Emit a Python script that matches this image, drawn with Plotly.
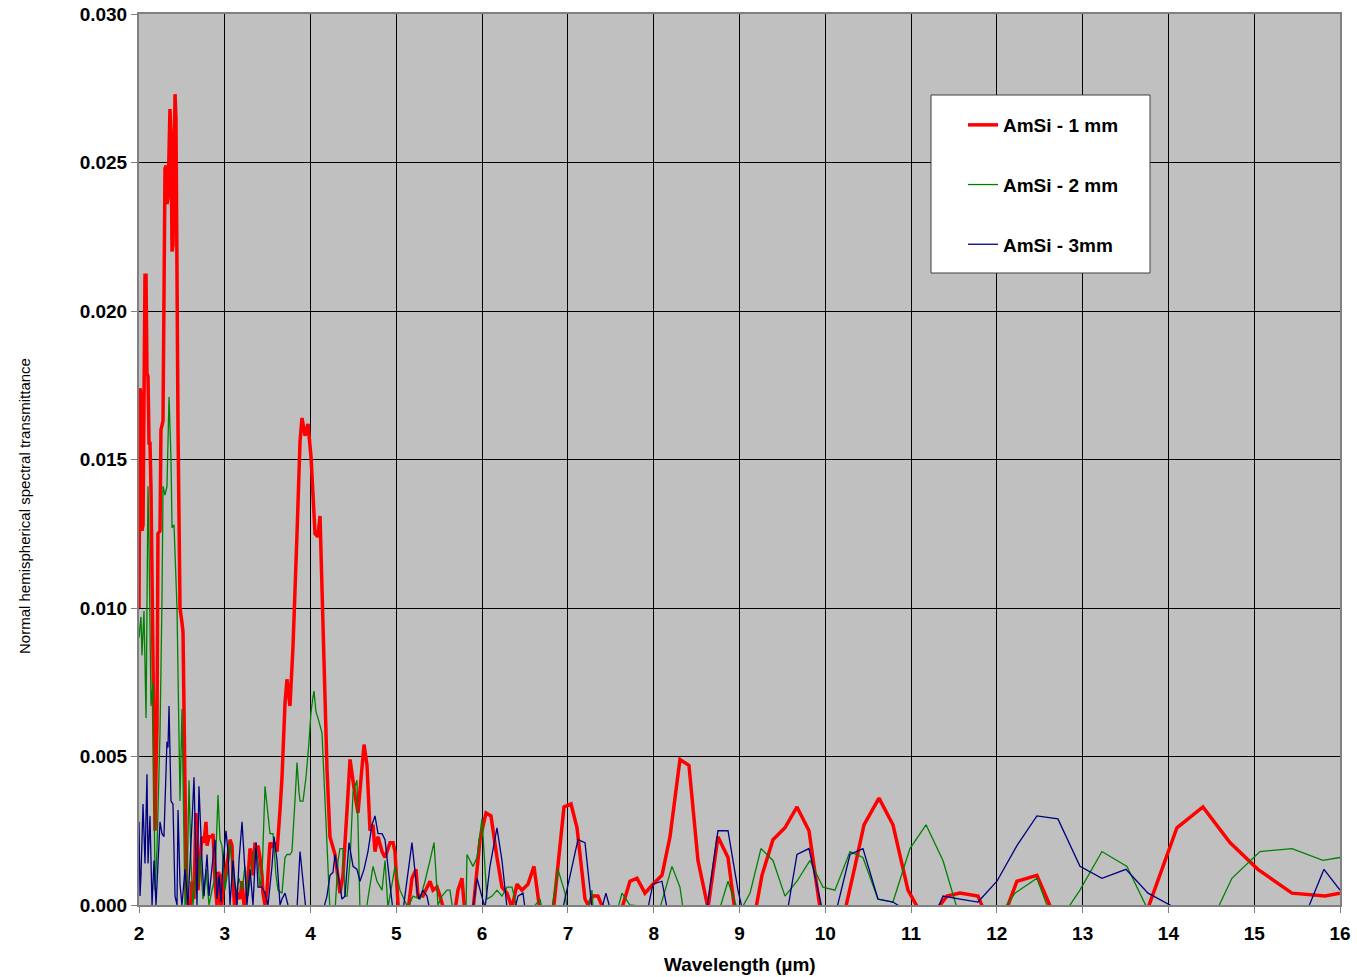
import plotly.graph_objects as go

# Wavelength (um) and normal hemispherical spectral transmittance for each sample thickness
wl_1mm = [2.000, 2.012, 2.023, 2.035, 2.047, 2.058, 2.070, 2.082, 2.093, 2.105, 2.117, 2.128, 2.140, 2.152,
          2.175, 2.187, 2.198, 2.210, 2.221, 2.245, 2.256, 2.280, 2.303, 2.315, 2.326, 2.338, 2.361, 2.373,
          2.385, 2.396, 2.420, 2.431, 2.455, 2.478, 2.501, 2.513, 2.536, 2.559, 2.571, 2.594, 2.618, 2.641,
          2.664, 2.688, 2.711, 2.734, 2.758, 2.781, 2.793, 2.816, 2.851, 2.863, 2.886, 2.909, 2.921, 2.944,
          2.956, 2.979, 3.014, 3.037, 3.061, 3.084, 3.096, 3.119, 3.142, 3.177, 3.201, 3.224, 3.259, 3.294,
          3.317, 3.329, 3.352, 3.364, 3.387, 3.410, 3.434, 3.445, 3.469, 3.492, 3.527, 3.550, 3.574, 3.609,
          3.644, 3.667, 3.702, 3.725, 3.760, 3.795, 3.842, 3.877, 3.900, 3.935, 3.970, 4.005, 4.052, 4.086,
          4.110, 4.145, 4.191, 4.226, 4.285, 4.343, 4.378, 4.425, 4.460, 4.518, 4.553, 4.623, 4.658, 4.693,
          4.728, 4.751, 4.786, 4.833, 4.868, 4.926, 4.961, 4.984, 5.030, 5.136, 5.182, 5.229, 5.252, 5.310,
          5.392, 5.427, 5.474, 5.509, 5.567, 5.683, 5.718, 5.765, 5.800, 5.893, 5.975, 6.045, 6.103, 6.173,
          6.231, 6.290, 6.348, 6.406, 6.464, 6.534, 6.604, 6.674, 6.826, 6.954, 7.036, 7.106, 7.199, 7.234,
          7.292, 7.350, 7.408, 7.630, 7.723, 7.805, 7.898, 7.991, 8.096, 8.190, 8.306, 8.411, 8.516, 8.633,
          8.749, 8.866, 8.947, 9.180, 9.262, 9.390, 9.530, 9.670, 9.810, 9.938, 10.229, 10.346, 10.451,
          10.626, 10.789, 10.964, 11.080, 11.313, 11.418, 11.570, 11.780, 11.838, 12.118, 12.234, 12.467,
          12.631, 13.762, 14.099, 14.402, 14.717, 15.043, 15.440, 15.825, 16.000]
tr_1mm = [0.0100, 0.0174, 0.0171, 0.0126, 0.0128, 0.0175, 0.0212, 0.0212, 0.0179, 0.0178, 0.0155, 0.0156,
          0.0140, 0.0110, 0.0040, 0.0025, 0.0045, 0.0060, 0.0125, 0.0126, 0.0160, 0.0163, 0.0248, 0.0249,
          0.0236, 0.0238, 0.0268, 0.0260, 0.0220, 0.0222, 0.0273, 0.0265, 0.0160, 0.0100, 0.0095, 0.0092,
          0.0040, 0.0002, 0.0000, -0.0003, 0.0008, 0.0002, 0.0031, 0.0005, 0.0015, 0.0023, 0.0021, 0.0028,
          0.0020, 0.0023, 0.0023, 0.0024, 0.0008, 0.0000, 0.0011, 0.0010, -0.0003, 0.0005, 0.0012, 0.0016,
          0.0022, 0.0020, 0.0008, -0.0003, 0.0004, 0.0002, 0.0008, 0.0000, 0.0004, 0.0019, 0.0017, 0.0010,
          0.0021, 0.0018, 0.0020, 0.0016, 0.0010, 0.0004, 0.0000, 0.0005, 0.0021, 0.0020, 0.0021, 0.0018,
          0.0032, 0.0043, 0.0068, 0.0076, 0.0067, 0.0087, 0.0125, 0.0156, 0.0164, 0.0158, 0.0162, 0.0151,
          0.0125, 0.0124, 0.0131, 0.0092, 0.0046, 0.0023, 0.0017, 0.0004, 0.0010, 0.0032, 0.0049, 0.0037,
          0.0031, 0.0054, 0.0047, 0.0025, 0.0027, 0.0018, 0.0023, 0.0018, 0.0016, 0.0021, 0.0021, 0.0018,
          -0.0005, -0.0002, 0.0009, 0.0012, 0.0003, 0.0003, 0.0008, 0.0005, 0.0006, 0.0003, -0.0003, -0.0002,
          0.0005, 0.0009, -0.0003, -0.0002, 0.0022, 0.0031, 0.0030, 0.0016, 0.0006, 0.0004, -0.0001, 0.0007,
          0.0005, 0.0007, 0.0013, -0.0002, -0.0003, 0.0033, 0.0034, 0.0026, 0.0002, 0.0000, 0.0003, 0.0003,
          -0.0001, -0.0001, 0.0008, 0.0009, 0.0004, 0.0007, 0.0010, 0.0023, 0.0049, 0.0047, 0.0015, -0.0001,
          0.0023, 0.0016, -0.0002, -0.0003, 0.0010, 0.0022, 0.0026, 0.0033, 0.0025, -0.0001, -0.0002, 0.0013,
          0.0027, 0.0036, 0.0027, 0.0005, -0.0001, -0.0001, 0.0003, 0.0004, 0.0003, -0.0001, -0.0001, 0.0008,
          0.0010, -0.0001, -0.0001, 0.0026, 0.0033, 0.0021, 0.0012, 0.0004, 0.0003, 0.0004]

wl_2mm = [2.000, 2.023, 2.035, 2.058, 2.082, 2.105, 2.117, 2.140, 2.163, 2.175, 2.187, 2.210, 2.245, 2.268,
          2.280, 2.303, 2.326, 2.350, 2.373, 2.385, 2.408, 2.443, 2.478, 2.501, 2.513, 2.536, 2.559, 2.583,
          2.606, 2.629, 2.664, 2.688, 2.711, 2.746, 2.781, 2.816, 2.851, 2.886, 2.921, 2.944, 2.967, 3.002,
          3.037, 3.061, 3.096, 3.131, 3.166, 3.201, 3.236, 3.271, 3.294, 3.329, 3.364, 3.387, 3.410, 3.434,
          3.469, 3.504, 3.527, 3.562, 3.597, 3.620, 3.667, 3.702, 3.725, 3.760, 3.783, 3.818, 3.842, 3.865,
          3.877, 3.912, 3.947, 3.982, 4.005, 4.028, 4.040, 4.063, 4.086, 4.133, 4.168, 4.203, 4.226, 4.285,
          4.320, 4.343, 4.378, 4.401, 4.425, 4.460, 4.495, 4.541, 4.576, 4.646, 4.728, 4.774, 4.833, 4.868,
          4.902, 4.984, 5.042, 5.136, 5.194, 5.275, 5.334, 5.392, 5.439, 5.485, 5.532, 5.590, 5.625, 5.660,
          5.812, 5.823, 5.893, 5.940, 5.998, 6.056, 6.115, 6.173, 6.231, 6.290, 6.348, 6.406, 6.593, 6.674,
          6.697, 6.814, 6.884, 6.966, 6.989, 7.234, 7.280, 7.292, 7.583, 7.630, 7.723, 8.073, 8.213, 8.306,
          8.341, 8.772, 8.866, 8.971, 9.029, 9.123, 9.250, 9.390, 9.530, 9.670, 9.822, 9.973, 10.113,
          10.288, 10.439, 10.614, 10.789, 10.987, 11.174, 11.372, 11.535, 12.094, 12.211, 12.467, 12.596,
          12.829, 12.969, 13.225, 13.517, 13.750, 14.577, 14.740, 15.067, 15.440, 15.801, 16.000]
tr_2mm = [0.0090, 0.0097, 0.0084, 0.0099, 0.0063, 0.0141, 0.0120, 0.0067, 0.0075, 0.0028, 0.0005, 0.0019,
          0.0058, 0.0103, 0.0141, 0.0138, 0.0141, 0.0171, 0.0150, 0.0127, 0.0128, 0.0100, 0.0035, 0.0066,
          0.0040, 0.0000, 0.0003, 0.0042, 0.0015, 0.0000, 0.0010, 0.0006, 0.0017, 0.0002, 0.0012, 0.0000,
          0.0005, 0.0009, 0.0037, 0.0022, 0.0020, 0.0005, 0.0012, 0.0021, 0.0011, 0.0004, 0.0009, 0.0005,
          0.0013, 0.0003, 0.0008, 0.0017, 0.0019, 0.0015, 0.0006, 0.0010, 0.0040, 0.0029, 0.0024, 0.0024,
          0.0010, 0.0005, 0.0004, 0.0016, 0.0017, 0.0017, 0.0018, 0.0035, 0.0048, 0.0038, 0.0035, 0.0035,
          0.0043, 0.0055, 0.0065, 0.0070, 0.0072, 0.0065, 0.0063, 0.0058, 0.0035, 0.0010, -0.0002, -0.0002,
          0.0015, 0.0019, 0.0019, 0.0003, 0.0003, 0.0015, 0.0038, 0.0042, -0.0002, -0.0002, 0.0013, 0.0008,
          0.0005, 0.0015, -0.0001, 0.0013, 0.0005, -0.0001, 0.0003, 0.0002, 0.0008, 0.0015, 0.0021, 0.0000,
          0.0003, 0.0005, 0.0005, -0.0002, -0.0002, 0.0017, 0.0013, 0.0016, 0.0029, 0.0002, 0.0003, 0.0005,
          0.0003, 0.0006, 0.0006, -0.0001, -0.0001, 0.0002, -0.0001, -0.0001, 0.0012, 0.0004, -0.0001,
          -0.0001, 0.0005, -0.0001, -0.0001, 0.0004, 0.0000, -0.0001, 0.0013, 0.0006, -0.0001, -0.0001,
          0.0008, -0.0001, -0.0001, 0.0004, 0.0019, 0.0015, 0.0003, 0.0008, 0.0015, 0.0006, 0.0005, 0.0018,
          0.0016, 0.0002, 0.0001, 0.0019, 0.0027, 0.0015, -0.0001, -0.0001, 0.0004, 0.0009, -0.0001,
          -0.0001, 0.0005, 0.0018, 0.0013, -0.0001, -0.0001, 0.0009, 0.0018, 0.0019, 0.0015, 0.0016]

wl_3mm = [2.000, 2.012, 2.023, 2.047, 2.070, 2.093, 2.105, 2.128, 2.152, 2.175, 2.198, 2.221, 2.245, 2.268,
          2.291, 2.326, 2.338, 2.350, 2.373, 2.396, 2.420, 2.443, 2.455, 2.478, 2.501, 2.536, 2.571, 2.618,
          2.641, 2.676, 2.699, 2.734, 2.758, 2.793, 2.816, 2.863, 2.886, 2.909, 2.933, 2.956, 2.979, 3.014,
          3.037, 3.061, 3.096, 3.142, 3.166, 3.201, 3.224, 3.259, 3.294, 3.329, 3.364, 3.387, 3.434, 3.469,
          3.504, 3.550, 3.574, 3.609, 3.644, 3.667, 3.702, 3.737, 3.783, 3.842, 3.877, 3.912, 3.947, 4.145,
          4.191, 4.226, 4.261, 4.285, 4.320, 4.366, 4.401, 4.448, 4.495, 4.541, 4.576, 4.623, 4.669, 4.716,
          4.751, 4.786, 4.833, 4.868, 4.902, 4.961, 5.077, 5.124, 5.182, 5.240, 5.264, 5.310, 5.357, 5.392,
          5.893, 5.940, 6.033, 6.091, 6.173, 6.231, 6.290, 6.383, 6.418, 6.476, 6.499, 6.942, 7.117, 7.199,
          7.280, 7.397, 7.443, 7.490, 7.933, 7.991, 8.096, 8.155, 8.621, 8.749, 8.866, 8.982, 9.029, 9.565,
          9.670, 9.810, 9.961, 10.136, 10.288, 10.439, 10.614, 10.789, 10.952, 11.313, 11.372, 11.570,
          11.780, 12.001, 12.234, 12.467, 12.712, 12.969, 13.225, 13.505, 13.762, 14.018, 14.134, 15.615,
          15.813, 16.000]
tr_3mm = [0.0028, 0.0003, 0.0010, 0.0034, 0.0014, 0.0044, 0.0014, 0.0030, 0.0000, 0.0015, 0.0000, 0.0016,
          0.0028, 0.0024, 0.0023, 0.0055, 0.0053, 0.0067, 0.0035, 0.0034, 0.0003, 0.0000, 0.0032, 0.0007,
          0.0000, 0.0012, 0.0000, 0.0028, 0.0043, 0.0000, 0.0040, 0.0015, 0.0003, 0.0017, 0.0003, 0.0016,
          0.0022, 0.0002, 0.0010, 0.0001, 0.0014, 0.0025, 0.0018, 0.0000, 0.0015, 0.0000, 0.0015, 0.0028,
          0.0017, 0.0000, 0.0012, 0.0000, 0.0021, 0.0006, 0.0006, 0.0004, 0.0000, 0.0013, 0.0023, 0.0015,
          0.0000, 0.0002, 0.0004, 0.0000, -0.0002, -0.0001, 0.0018, 0.0008, -0.0002, -0.0002, 0.0003, 0.0010,
          0.0011, 0.0017, 0.0010, 0.0002, 0.0003, 0.0021, 0.0013, 0.0012, 0.0008, 0.0012, 0.0018, 0.0027,
          0.0030, 0.0024, 0.0024, 0.0022, 0.0013, -0.0002, -0.0002, 0.0008, 0.0021, 0.0005, 0.0002, 0.0005,
          0.0003, -0.0002, -0.0001, 0.0009, -0.0001, 0.0013, 0.0026, 0.0015, -0.0001, -0.0001, 0.0003,
          0.0004, -0.0001, -0.0001, 0.0022, 0.0021, -0.0001, -0.0001, 0.0004, -0.0001, -0.0001, 0.0007,
          0.0008, -0.0001, -0.0001, 0.0025, 0.0025, 0.0005, -0.0001, -0.0001, 0.0017, 0.0019, -0.0001,
          -0.0001, 0.0017, 0.0019, 0.0002, 0.0001, -0.0002, -0.0001, 0.0003, 0.0002, 0.0001, 0.0008, 0.0020,
          0.0030, 0.0029, 0.0013, 0.0009, 0.0012, 0.0004, 0.0000, -0.0002, -0.0002, 0.0012, 0.0005]

series_names = ["AmSi - 1 mm", "AmSi - 2 mm", "AmSi - 3mm"]
series_colors = ["#FF0000", "#008000", "#000080"]
series_widths = [3.5, 1.3, 1.3]

x_ticks = list(range(2, 17))
y_ticks = [0.000, 0.005, 0.010, 0.015, 0.020, 0.025, 0.030]

W, H = 1357, 977
L, R, T, B = 139, 17, 14, 72
plot_w = W - L - R
plot_h = H - T - B


def px_to_paper_x(px):
    return (px - L) / plot_w


def px_to_paper_y(py):
    return (H - B - py) / plot_h


FONT = "Liberation Sans, Arial, sans-serif"

fig = go.Figure()
for i, (xs, ys) in enumerate([(wl_1mm, tr_1mm), (wl_2mm, tr_2mm), (wl_3mm, tr_3mm)]):
    fig.add_trace(go.Scatter(
        x=xs, y=ys, mode="lines", name=series_names[i],
        legendgroup=f"g{i}",
        line=dict(color=series_colors[i], width=series_widths[i]),
    ))

tick_font = dict(family=FONT, size=19, color="black", weight="bold")

fig.update_layout(
    width=W, height=H,
    margin=dict(l=L, r=R, t=T, b=B, autoexpand=False),
    paper_bgcolor="white",
    plot_bgcolor="#C0C0C0",
    showlegend=True,
    legend=dict(
        x=px_to_paper_x(963), y=px_to_paper_y(106), xanchor="left", yanchor="top",
        bgcolor="rgba(0,0,0,0)", borderwidth=0,
        font=dict(family=FONT, size=19, color="black", weight="bold"),
        tracegroupgap=32,
    ),
    shapes=[dict(
        type="rect", xref="paper", yref="paper", layer="above",
        x0=px_to_paper_x(931), x1=px_to_paper_x(1150),
        y0=px_to_paper_y(273), y1=px_to_paper_y(95),
        fillcolor="white", line=dict(color="#404040", width=1),
    )],
    annotations=[
        dict(text="Normal hemispherical spectral transmittance", textangle=-90,
             xref="paper", yref="paper", x=px_to_paper_x(25), y=px_to_paper_y(506),
             xanchor="center", yanchor="middle", showarrow=False,
             font=dict(family=FONT, size=15, color="black")),
        dict(text="Wavelength (µm)",
             xref="paper", yref="paper", x=px_to_paper_x(740), y=px_to_paper_y(965),
             xanchor="center", yanchor="middle", showarrow=False,
             font=dict(family=FONT, size=19, color="black", weight="bold")),
    ],
)

fig.update_xaxes(
    range=[2, 16], tickvals=x_ticks, ticktext=[str(v) for v in x_ticks],
    showgrid=True, gridcolor="black", gridwidth=1,
    showline=True, linecolor="#808080", linewidth=2, mirror=True,
    ticks="outside", ticklen=6, tickcolor="#808080", tickwidth=1,
    tickfont=tick_font, zeroline=False, automargin=False, ticklabelstandoff=4,
)
fig.update_yaxes(
    range=[0, 0.030], tickvals=y_ticks, tickformat=".3f",
    showgrid=True, gridcolor="black", gridwidth=1,
    showline=True, linecolor="#808080", linewidth=2, mirror=True,
    ticks="outside", ticklen=6, tickcolor="#808080", tickwidth=1,
    tickfont=tick_font, zeroline=False, automargin=False,
)

fig.write_html("out.html")
